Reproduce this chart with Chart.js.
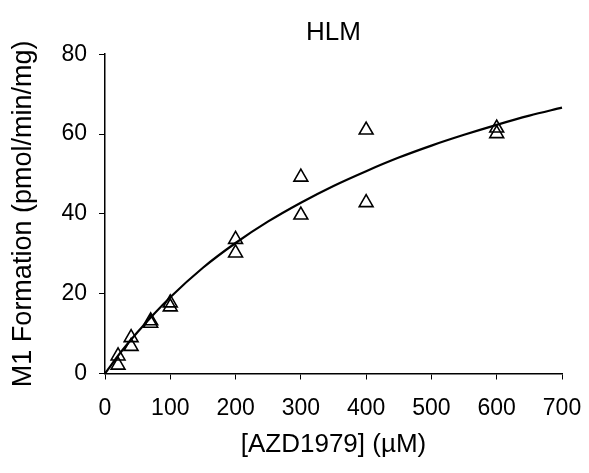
<!DOCTYPE html>
<html>
<head>
<meta charset="utf-8">
<script src="https://cdn.jsdelivr.net/npm/chart.js@4"></script>
<style>
  html, body { margin: 0; padding: 0; background: #fff; }
  #wrap { width: 589px; height: 473px; }
</style>
</head>
<body>
<div id="wrap"><canvas id="c" width="589" height="473"></canvas></div>
<script>
// Observed data: substrate concentration (µM) and M1 formation rate
const concentrations = [20, 20, 40, 40, 70, 70, 100, 100, 200, 200, 300, 300, 400, 400, 600, 600];
const formationRates = [4.4, 2.1, 9.0, 6.8, 13.2, 12.6, 17.7, 16.7, 33.6, 30.2, 49.2, 39.7, 61.0, 42.8, 61.5, 60.1];

// Fitted curve
const curveX = [0, 25, 50, 100, 150, 200, 250, 300, 350, 400, 450, 500, 550, 600, 650, 700];
const curveY = [0, 5.5, 10.4, 19.1, 26.5, 32.7, 38.1, 42.8, 47.0, 50.7, 54.1, 57.1, 59.8, 62.3, 64.6, 66.6];

// Axis ticks
const xTicks = [0, 100, 200, 300, 400, 500, 600, 700];
const yTicks = [0, 20, 40, 60, 80];

const FONT = "'Liberation Sans', Arial, sans-serif";

const points = concentrations.map((x, i) => ({ x: x, y: formationRates[i] }));
const curve = curveX.map((x, i) => ({ x: x, y: curveY[i] }));

new Chart(document.getElementById('c'), {
  type: 'scatter',
  data: {
    datasets: [
      {
        label: 'Fit',
        data: curve,
        showLine: true,
        borderColor: '#000',
        borderWidth: 2.2,
        pointRadius: 0,
        pointHoverRadius: 0,
        cubicInterpolationMode: 'monotone',
        fill: false,
        clip: false,
        order: 0
      },
      {
        label: 'HLM',
        data: points,
        pointStyle: 'triangle',
        pointRadius: 8,
        pointHoverRadius: 8,
        backgroundColor: 'rgba(255,255,255,0)',
        borderColor: '#000',
        borderWidth: 1.6,
        order: 1
      }
    ]
  },
  options: {
    responsive: false,
    animation: false,
    devicePixelRatio: 1,
    layout: { padding: { left: 0, right: 27, top: 0, bottom: 0 } },
    plugins: {
      legend: { display: false },
      tooltip: { enabled: false },
      title: {
        display: true,
        text: 'HLM',
        fullSize: false,
        color: '#000',
        font: { family: FONT, size: 26, weight: 'normal' },
        padding: { top: 17, bottom: 6 }
      }
    },
    scales: {
      x: {
        type: 'linear',
        min: 0,
        max: 700,
        afterBuildTicks: (axis) => { axis.ticks = xTicks.map(v => ({ value: v })); },
        afterFit: (axis) => { axis.height = 99.5; axis.paddingLeft = 0; axis.paddingRight = 0; },
        ticks: {
          color: '#000',
          font: { family: FONT, size: 23 },
          padding: 15,
          maxRotation: 0
        },
        grid: {
          display: true,
          drawOnChartArea: false,
          drawTicks: true,
          tickLength: 6,
          color: '#000',
          lineWidth: 1
        },
        border: { display: true, color: '#000', width: 1.5 },
        title: {
          display: true,
          text: '[AZD1979] (µM)',
          color: '#000',
          font: { family: FONT, size: 26 },
          padding: { top: 0, bottom: 13 }
        }
      },
      y: {
        type: 'linear',
        min: 0,
        max: 80,
        afterBuildTicks: (axis) => { axis.ticks = yTicks.map(v => ({ value: v })); },
        afterFit: (axis) => { axis.width = 105; axis.paddingTop = 0; axis.paddingBottom = 0; },
        ticks: {
          color: '#000',
          font: { family: FONT, size: 23 },
          padding: 12
        },
        grid: {
          display: true,
          drawOnChartArea: false,
          drawTicks: true,
          tickLength: 6,
          color: '#000',
          lineWidth: 1
        },
        border: { display: true, color: '#000', width: 1.5 },
        title: {
          display: true,
          text: 'M1 Formation (pmol/min/mg)',
          color: '#000',
          font: { family: FONT, size: 27 },
          padding: { top: 7, bottom: 0 }
        }
      }
    }
  }
});
</script>
</body>
</html>
